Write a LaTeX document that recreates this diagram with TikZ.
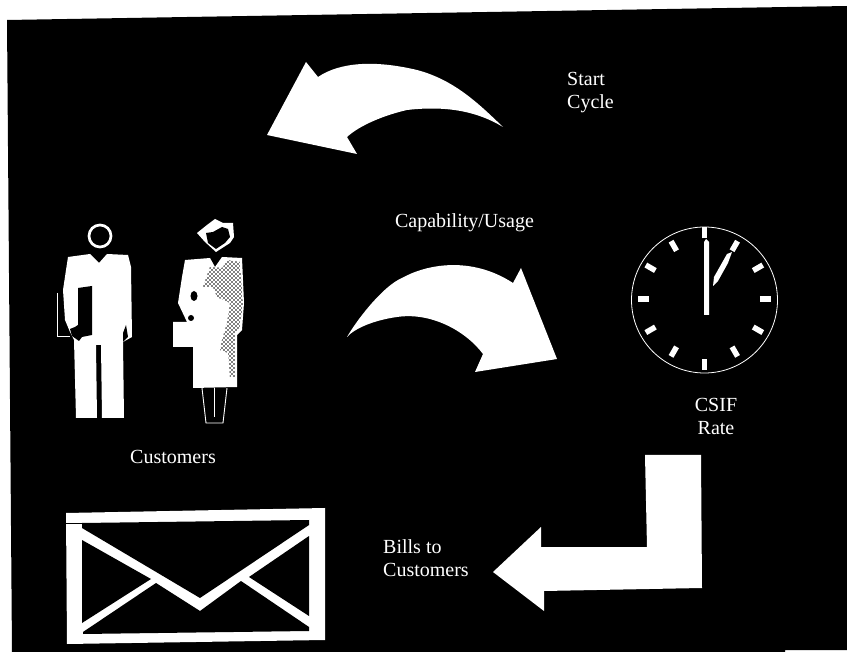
\documentclass[tikz,border=0pt]{standalone}
\usepackage{fontspec}
\setmainfont{Liberation Serif}
\begin{document}
\begin{tikzpicture}[x=1pt,y=-1pt,
  lbl/.style={text=white,inner sep=0pt,align=center,font=\fontsize{20}{23}\selectfont},
  whitefill/.style={fill=white,draw=none},
  hole/.style={fill=black,draw=none},
  thinline/.style={draw=white,line width=0.9pt},
  ticklen/.style={draw=white,line width=5.5pt}]
\useasboundingbox (0,0) rectangle (847,652);
\fill[black] (7,20)--(847,6)--(847,650)--(785,650)--(785,652)--(12,652)--cycle;
% texts
\node[lbl,anchor=west,align=left] (start) at (567,92.5) {Start\\Cycle};
\node[lbl] (usage) at (464.5,223) {Capability/Usage};
\node[lbl] (customers) at (173,457) {Customers};
\node[lbl] (rate) at (716,416) {CSIF\\Rate};
\node[lbl,anchor=west,align=left] (bills) at (383,558) {Bills to\\Customers};
% arrows
\fill[whitefill] (306,62)--(318,77) .. controls (340,62) and (375,60) .. (417,70)
  .. controls (455,80) and (480,105) .. (503,127)
  .. controls (480,113) and (450,105) .. (407,110)
  .. controls (385,115) and (360,125) .. (347,137)--(357,154)--(267,135)--cycle;
\fill[whitefill] (347,337) .. controls (360,315) and (385,285) .. (402,278)
  .. controls (425,265) and (470,255) .. (513,283)--(521,268)--(557,359)--(475,372)--(483,354)
  .. controls (465,330) and (430,312) .. (397,317)
  .. controls (375,320) and (355,328) .. (347,337);
\fill[whitefill] (645,455)--(701,455)--(702,588)--(544,591)--(544,611)--(493,572)--(541,527)--(541,547)--(647,547)--cycle;
% man
\draw[draw=white,line width=2.7pt] (100,236) circle (11);
\fill[whitefill] (68,257)--(90,254)--(99,263)--(107,254)--(128,255)--(131,267)--(132,337)--(123,342)--(124,418)
  --(102,418)--(101,345)--(96,345)--(97,418)--(76,418)--(74,340)--(70,332)--(65,320)--(63,290)--(66,270)--cycle;
\fill[hole] (78,288)--(92,286)--(92,335)--(82,337)--(79,341)--(72,336)--(70,329)--(75,327)--(78,325)--cycle;
\fill[hole] (126,325)--(128,337)--(123,342)--(123,333)--cycle;
\draw[thinline] (57,293)--(57,336)--(70,336);
% woman
\fill[whitefill] (197,233)--(207,225)--(215,219)--(223,223)--(233,223)--(234,237)--(230,243)--(216,252)--(205,242)--cycle;
\fill[hole] (206,233)--(213,232)--(222,227)--(228,229)--(230,237)--(225,243)--(216,249)--(208,243)--cycle;
\fill[whitefill] (185,260)--(210,258)--(215,267)--(222,257)--(242,258)--(244,303)--(242,330)--(237,335)--(237,387)
  --(193,388)--(193,347)--(173,347)--(173,322)--(187,322)--(178,303)--(182,277)--cycle;
\fill[hole] (194,296) ellipse (3.5 and 5);
\fill[hole] (191,318) circle (3);
\begin{scope}
\clip (203,287)--(210,267)--(222,268)--(228,260)--(240,262)--(243,303)
  --(240,327)--(235,333)--(235,377)--(230,377)--(228,353)--(220,350)--(222,340)--(227,323)--(230,303)--(217,297)--(213,287)--cycle;
\foreach \x in {202,206,...,244}
  \foreach \y in {260,264,...,380}
    \fill[hole] (\x,\y) circle (0.8) (\x+2,\y+2) circle (0.8);
\end{scope}
\draw[thinline] (202,388)--(206,423)--(223,423)--(227,388);
\draw[thinline] (214,388)--(214,417);
% clock
\draw[draw=white,line width=0.8pt] (704.5,300) circle (73);
\foreach \a/\r in {0/61,30/62,60/61,90/66,120/61,150/62,180/61,210/62,240/61,270/66,300/61,330/62}
  \draw[ticklen,shift={(704.3,298.8)}] (\a:\r-5.5)--(\a:\r+5.5);
\fill[whitefill] (704,242)--(706,239)--(709,242)--(709,315)--(704,315)--cycle;
\fill[whitefill] (713,286)--(714,277)--(727,254)--(732,252)--(728,263)--(718,281)--cycle;
% envelope
\fill[whitefill] (66,513)--(325,508)--(325,640)--(67,644)--cycle;
\fill[hole] (82,523)--(309,520)--(309,525)--(200,598)--(82,528)--cycle;
\fill[hole] (82,540)--(151,579)--(82,623)--cycle;
\fill[hole] (83,632)--(156,583)--(200,611)--(241,581)--(309,627)--(309,631)--(83,634)--cycle;
\fill[hole] (309,536)--(249,577)--(309,616)--cycle;
\draw[black,line width=0.8pt] (66,523)--(82,523);
\end{tikzpicture}
\end{document}
